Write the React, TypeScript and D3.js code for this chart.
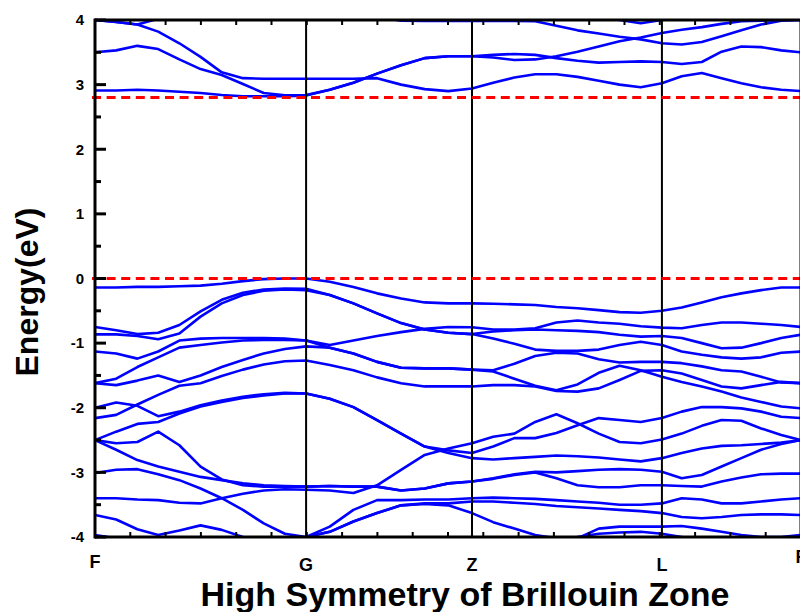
import React from "react";
import * as d3 from "d3";

// k-path grid (arbitrary k-distance units), F-G (10 steps), G-Z (7), Z-L (9), L-F (7)
const kGrid = [
  0, 0.06, 0.12, 0.179, 0.239, 0.299, 0.359, 0.419, 0.478, 0.538, 0.598,
  0.665, 0.732, 0.799, 0.867, 0.934, 1.001, 1.068,
  1.128, 1.188, 1.247, 1.307, 1.367, 1.427, 1.486, 1.546, 1.606,
  1.662, 1.719, 1.775, 1.831, 1.887, 1.944, 2.0,
];
const kLabels = ["F", "G", "Z", "L", "F"];
const kLabelPos = [0, 0.598, 1.068, 1.606, 2.0];
const kLabelBase = [568, 571, 571, 571, 563];
const yTicks = [-4, -3, -2, -1, 0, 1, 2, 3, 4];
const yMinor = [-3.5, -2.5, -1.5, -0.5, 0.5, 1.5, 2.5, 3.5];
const refLines = [0, 2.8];

// conduction bands (eV)
const cb1 = [2.91, 2.91, 2.92, 2.91, 2.89, 2.87, 2.84, 2.82, 2.82, 2.82, 2.83, 2.92, 3.03, 3.17, 3.3, 3.41, 3.44, 3.44, 3.42, 3.38, 3.39, 3.44, 3.51, 3.59, 3.67, 3.73, 3.8, 3.85, 3.89, 3.94, 3.98, 3.99, 4.0, 4.0];
const cb2 = [3.5, 3.53, 3.6, 3.55, 3.39, 3.24, 3.15, 3.01, 2.87, 2.835, 2.84, 2.92, 3.03, 3.17, 3.3, 3.41, 3.44, 3.44, 3.46, 3.475, 3.46, 3.41, 3.37, 3.34, 3.35, 3.36, 3.35, 3.32, 3.35, 3.51, 3.59, 3.58, 3.53, 3.5];
const cb3 = [4.0, 3.97, 3.93, 3.82, 3.64, 3.43, 3.19, 3.1, 3.09, 3.09, 3.09, 3.09, 3.09, 3.1, 3.0, 2.93, 2.9, 2.94, 3.03, 3.11, 3.16, 3.16, 3.12, 3.06, 3.0, 2.96, 3.02, 3.13, 3.18, 3.1, 3.02, 2.96, 2.92, 2.9];
const cb4 = [4.0, 3.97, 3.93, 4.02, 4.1, 4.1, 4.1, 4.1, 4.1, 4.1, 4.1, 4.1, 4.1, 4.05, 3.99, 3.985, 3.985, 3.985, 3.985, 3.985, 3.98, 3.91, 3.84, 3.79, 3.74, 3.7, 3.64, 3.62, 3.66, 3.75, 3.84, 3.93, 3.99, 4.0];
const cb5 = [4.1, 4.1, 4.1, 4.1, 4.1, 4.1, 4.1, 4.1, 4.1, 4.1, 4.1, 4.1, 4.1, 4.1, 4.1, 4.1, 4.1, 4.1, 4.1, 4.1, 4.1, 4.1, 4.1, 4.05, 4.0, 3.95, 4.0, 4.03, 4.1, 4.1, 4.1, 4.1, 4.1, 4.1];

// valence bands (eV)
const vb1 = [-0.14, -0.14, -0.13, -0.13, -0.12, -0.11, -0.08, -0.04, -0.01, 0, 0, -0.05, -0.13, -0.23, -0.31, -0.37, -0.385, -0.385, -0.39, -0.4, -0.41, -0.44, -0.46, -0.49, -0.52, -0.53, -0.5, -0.45, -0.37, -0.29, -0.23, -0.18, -0.14, -0.14];
const vb2 = [-0.75, -0.8, -0.86, -0.84, -0.72, -0.51, -0.33, -0.22, -0.17, -0.155, -0.16, -0.255, -0.385, -0.54, -0.69, -0.79, -0.84, -0.86, -0.82, -0.8, -0.79, -0.8, -0.81, -0.83, -0.87, -0.9, -0.89, -0.92, -1.0, -1.08, -1.07, -1.0, -0.92, -0.87];
const vb3 = [-0.865, -0.865, -0.89, -0.94, -0.85, -0.59, -0.385, -0.255, -0.19, -0.17, -0.18, -0.255, -0.385, -0.54, -0.69, -0.79, -0.84, -0.86, -0.93, -1.01, -1.1, -1.12, -1.12, -1.1, -1.03, -0.98, -1.03, -1.13, -1.18, -1.22, -1.24, -1.22, -1.15, -1.13];
const vb4 = [-1.13, -1.16, -1.24, -1.13, -0.96, -0.93, -0.92, -0.92, -0.92, -0.93, -0.96, -1.03, -0.96, -0.89, -0.83, -0.78, -0.75, -0.755, -0.79, -0.79, -0.77, -0.68, -0.65, -0.68, -0.7, -0.74, -0.76, -0.77, -0.72, -0.68, -0.68, -0.7, -0.72, -0.75];
const vb5 = [-1.62, -1.55, -1.37, -1.22, -1.07, -1.03, -0.99, -0.96, -0.95, -0.95, -0.96, -1.07, -1.16, -1.29, -1.38, -1.39, -1.39, -1.41, -1.44, -1.55, -1.66, -1.73, -1.64, -1.46, -1.35, -1.42, -1.52, -1.6, -1.67, -1.75, -1.84, -1.91, -1.98, -2.01];
const vb6 = [-1.62, -1.65, -1.58, -1.5, -1.6, -1.5, -1.37, -1.26, -1.16, -1.09, -1.05, -1.07, -1.16, -1.29, -1.38, -1.39, -1.39, -1.41, -1.42, -1.32, -1.2, -1.15, -1.16, -1.25, -1.3, -1.29, -1.29, -1.31, -1.36, -1.42, -1.44, -1.52, -1.61, -1.62];
const vb7 = [-2.16, -2.11, -1.95, -1.8, -1.66, -1.62, -1.51, -1.41, -1.33, -1.28, -1.27, -1.34, -1.42, -1.53, -1.62, -1.67, -1.67, -1.67, -1.65, -1.65, -1.67, -1.74, -1.75, -1.7, -1.57, -1.43, -1.42, -1.47, -1.57, -1.67, -1.7, -1.65, -1.6, -1.62];
const vb8 = [-2.0, -1.92, -1.97, -2.13, -2.06, -1.96, -1.89, -1.83, -1.79, -1.77, -1.78, -1.86, -1.99, -2.19, -2.4, -2.6, -2.66, -2.7, -2.6, -2.47, -2.47, -2.39, -2.27, -2.16, -2.19, -2.22, -2.16, -2.06, -1.99, -1.99, -2.01, -2.06, -2.14, -2.16];
const vb9 = [-2.5, -2.37, -2.25, -2.22, -2.09, -1.98, -1.91, -1.85, -1.81, -1.78, -1.78, -1.86, -1.99, -2.19, -2.4, -2.6, -2.7, -2.78, -2.8, -2.78, -2.76, -2.74, -2.75, -2.77, -2.8, -2.83, -2.78, -2.7, -2.63, -2.59, -2.58, -2.56, -2.54, -2.5];
const vb10 = [-2.5, -2.55, -2.53, -2.37, -2.58, -2.91, -3.11, -3.2, -3.22, -3.22, -3.22, -3.21, -3.22, -3.22, -3.28, -3.25, -3.17, -3.14, -3.1, -3.04, -3.0, -3.09, -3.2, -3.23, -3.23, -3.2, -3.2, -3.21, -3.22, -3.14, -3.08, -3.03, -3.02, -3.02];
const vb11 = [-2.5, -2.65, -2.81, -2.91, -2.99, -3.07, -3.12, -3.17, -3.2, -3.21, -3.22, -3.21, -3.22, -3.22, -3.28, -3.25, -3.17, -3.14, -3.09, -3.03, -2.99, -3.0, -2.98, -2.96, -2.95, -2.96, -2.99, -3.09, -3.04, -2.91, -2.78, -2.65, -2.56, -2.5];
const vb12 = [-3.01, -2.96, -2.95, -3.03, -3.12, -3.25, -3.4, -3.33, -3.28, -3.26, -3.27, -3.28, -3.32, -3.2, -2.96, -2.73, -2.63, -2.55, -2.45, -2.4, -2.22, -2.1, -2.24, -2.4, -2.53, -2.55, -2.49, -2.4, -2.28, -2.19, -2.2, -2.32, -2.42, -2.5];
const vb13 = [-3.4, -3.4, -3.42, -3.43, -3.47, -3.48, -3.4, -3.58, -3.79, -3.95, -4.0, -3.92, -3.76, -3.63, -3.51, -3.49, -3.51, -3.63, -3.77, -3.87, -3.97, -4.02, -4.02, -3.87, -3.84, -3.84, -3.84, -3.83, -3.87, -3.92, -3.97, -4.0, -4.0, -3.97];
const vb14 = [-3.66, -3.73, -3.88, -3.97, -3.9, -3.82, -3.89, -4.0, -4.05, -4.05, -4.0, -3.84, -3.58, -3.43, -3.43, -3.42, -3.42, -3.4, -3.39, -3.4, -3.41, -3.43, -3.45, -3.47, -3.5, -3.5, -3.48, -3.4, -3.42, -3.48, -3.48, -3.45, -3.42, -3.4];
const vb15 = [-3.97, -4.02, -4.1, -4.1, -4.1, -4.1, -4.1, -4.1, -4.1, -4.05, -4.0, -3.92, -3.76, -3.63, -3.51, -3.48, -3.48, -3.45, -3.45, -3.47, -3.49, -3.52, -3.54, -3.56, -3.58, -3.6, -3.63, -3.69, -3.71, -3.69, -3.66, -3.65, -3.65, -3.66];
const vb16 = [-4.1, -4.1, -4.1, -4.1, -4.1, -4.1, -4.1, -4.1, -4.1, -4.1, -4.1, -4.1, -4.1, -4.1, -4.1, -4.1, -4.1, -4.1, -4.1, -4.1, -4.1, -4.1, -4.0, -3.95, -3.93, -3.92, -3.95, -4.0, -4.05, -4.1, -4.1, -4.1, -4.1, -4.1];

const bands = [cb1, cb2, cb3, cb4, cb5, vb1, vb2, vb3, vb4, vb5, vb6, vb7, vb8, vb9, vb10, vb11, vb12, vb13, vb14, vb15, vb16];

const FONT = "'Liberation Sans', Arial, sans-serif";

export default function App() {
  const W = 800;
  const H = 612;
  const x0 = 95, x1 = 801, yTop = 20, yBot = 537;
  const x = d3.scaleLinear().domain([0, 2]).range([x0, x1]);
  const y = d3.scaleLinear().domain([-4, 4]).range([yBot, yTop]);
  const line = d3
    .line<number>()
    .x((_, i) => x(kGrid[i]))
    .y((d) => y(d));
  const xTicks = d3.range(0, 2.0001, 0.1);

  return (
    <svg
      width={W}
      height={H}
      style={{ position: "absolute", left: 0, top: 0, display: "block", background: "#fff" }}
    >
      <defs>
        <clipPath id="plotClip">
          <rect x={x0} y={yTop} width={x1 - x0} height={yBot - yTop} />
        </clipPath>
      </defs>
      <g clipPath="url(#plotClip)">
        {bands.map((b, i) => (
          <path key={i} d={line(b) || ""} fill="none" stroke="#0000ff" strokeWidth={2.6} strokeLinejoin="round" />
        ))}
      </g>
      {kLabelPos.slice(1, 4).map((k, i) => (
        <line key={i} x1={x(k)} x2={x(k)} y1={yTop} y2={yBot} stroke="#000" strokeWidth={2} />
      ))}
      {refLines.map((e, i) => (
        <line key={i} x1={92} x2={x1} y1={y(e)} y2={y(e)} stroke="#ff0000" strokeWidth={3} strokeDasharray="9 5.6" />
      ))}
      {/* frame */}
      <line x1={x0} x2={x0} y1={yTop - 1.5} y2={yBot + 1.5} stroke="#000" strokeWidth={3} />
      <line x1={x0} x2={x1 + 2} y1={yTop} y2={yTop} stroke="#000" strokeWidth={3} />
      <line x1={x0} x2={x1 + 2} y1={yBot} y2={yBot} stroke="#000" strokeWidth={3} />
      <line x1={x1} x2={x1} y1={yTop} y2={yBot} stroke="#000" strokeWidth={3} />
      {/* x ticks top and bottom */}
      {xTicks.map((t, i) => (
        <g key={i}>
          <line x1={x(t)} x2={x(t)} y1={yTop} y2={yTop + 5} stroke="#000" strokeWidth={2} />
          <line x1={x(t)} x2={x(t)} y1={yBot} y2={yBot - 5} stroke="#000" strokeWidth={2} />
        </g>
      ))}
      {/* y ticks */}
      {yTicks.map((t) => (
        <g key={t}>
          <line x1={x0} x2={x0 + 11} y1={y(t)} y2={y(t)} stroke="#000" strokeWidth={3} />
          <text x={84} y={y(t)} dy="0.35em" textAnchor="end" fontFamily={FONT} fontWeight="bold" fontSize={15}>
            {t}
          </text>
        </g>
      ))}
      {yMinor.map((t) => (
        <line key={t} x1={x0} x2={x0 + 6} y1={y(t)} y2={y(t)} stroke="#000" strokeWidth={3} />
      ))}
      {/* k labels */}
      {kLabels.map((l, i) => (
        <text key={i} x={x(kLabelPos[i])} y={kLabelBase[i]} textAnchor="middle" fontFamily={FONT} fontWeight="bold" fontSize={18}>
          {l}
        </text>
      ))}
      <text
        transform="translate(38,292) rotate(-90)"
        textAnchor="middle"
        fontFamily={FONT}
        fontWeight="bold"
        fontSize={32}
      >
        Energy(eV)
      </text>
      <text x={465} y={606} textAnchor="middle" fontFamily={FONT} fontWeight="bold" fontSize={34}>
        High Symmetry of Brillouin Zone
      </text>
    </svg>
  );
}
